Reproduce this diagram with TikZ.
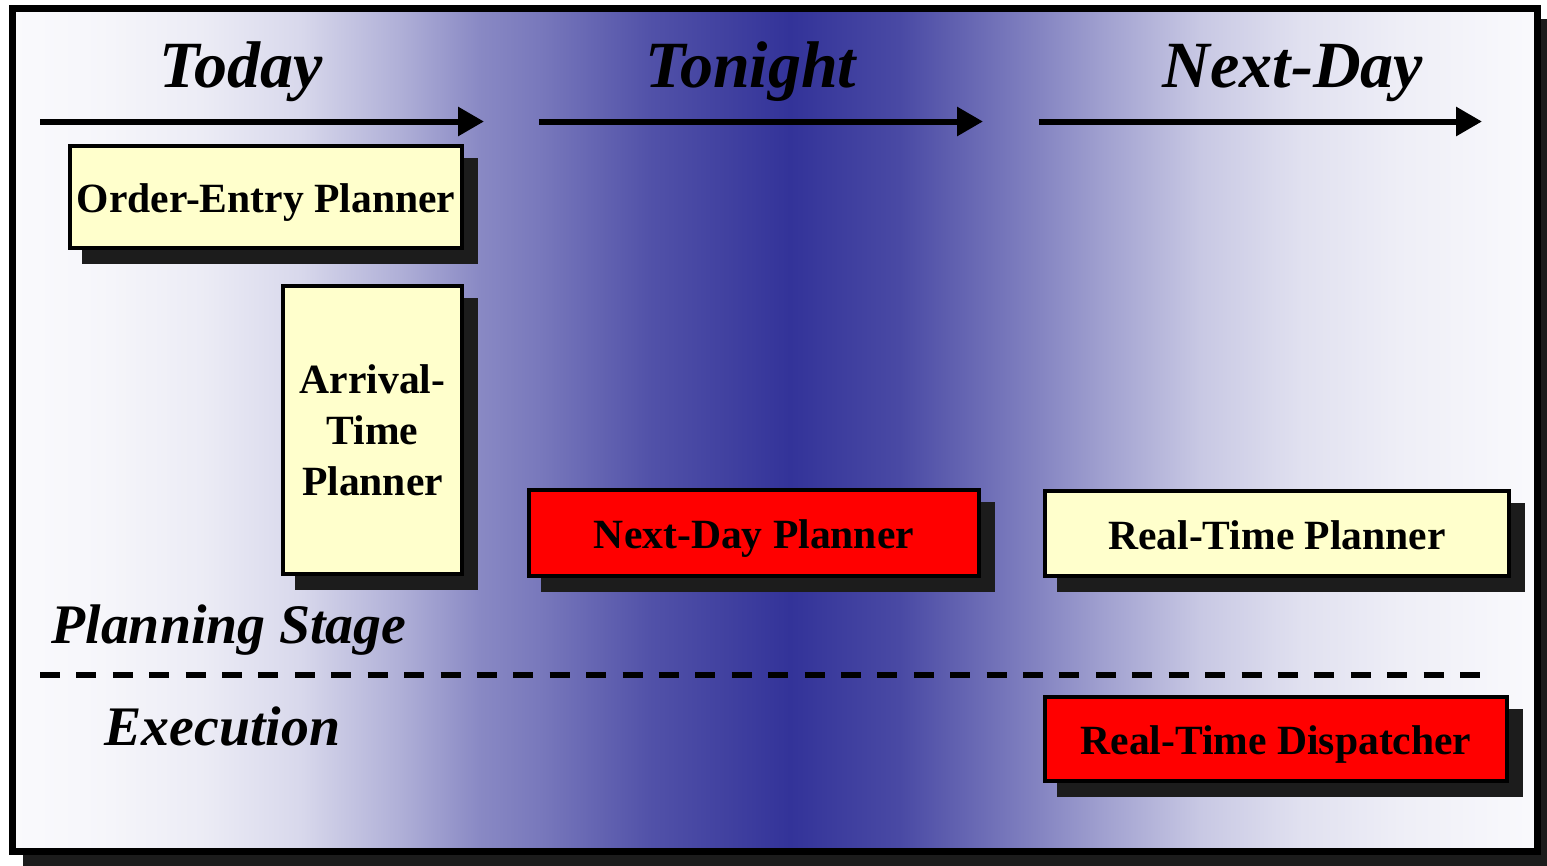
\documentclass[tikz,border=0pt]{standalone}
\usepackage{fontspec}
\setmainfont{Liberation Serif}
\usetikzlibrary{arrows.meta}
\pgfdeclarelayer{bgl}
\pgfdeclarelayer{shl}
\pgfsetlayers{bgl,shl,main}
\pgfdeclarehorizontalshading{skyband}{100bp}{%
rgb(0bp)=(0.98,0.98,0.99);
rgb(25bp)=(0.98,0.98,0.99);
rgb(27.87bp)=(0.965,0.965,0.982);
rgb(31.15bp)=(0.926,0.926,0.963);
rgb(34.43bp)=(0.848,0.848,0.924);
rgb(37.70bp)=(0.688,0.688,0.844);
rgb(40.33bp)=(0.536,0.536,0.768);
rgb(42.30bp)=(0.472,0.472,0.736);
rgb(45.90bp)=(0.32,0.32,0.66);
rgb(50.49bp)=(0.2,0.2,0.6);
rgb(54.10bp)=(0.288,0.288,0.644);
rgb(58.69bp)=(0.52,0.52,0.76);
rgb(60.66bp)=(0.624,0.624,0.812);
rgb(63.93bp)=(0.784,0.784,0.892);
rgb(67.21bp)=(0.88,0.88,0.94);
rgb(70.49bp)=(0.934,0.934,0.967);
rgb(75bp)=(0.98,0.98,0.99);
rgb(100bp)=(0.98,0.98,0.99)}
\definecolor{boxyellow}{HTML}{FFFFCC}
\definecolor{shadowgray}{HTML}{1C1C1C}
\tikzset{
  planbox/.style={draw=black, line width=4pt, inner sep=0pt, align=center,
    font=\fontsize{41.6}{51}\selectfont\bfseries},
  oneline/.style={text height=36pt, text depth=5pt},
  yellowbox/.style={planbox, fill=boxyellow},
  redbox/.style={planbox, fill=red},
  timelabel/.style={font=\fontsize{66}{72}\selectfont\bfseries\itshape, inner sep=0pt, anchor=base},
  stagelabel/.style={font=\fontsize{55.8}{60}\selectfont\bfseries\itshape, inner sep=0pt, anchor=base},
  timearrow/.style={line width=6pt, -{Triangle[length=26pt,width=28pt]}},
  stageline/.style={line width=6pt, dash pattern=on 20pt off 16.41pt},
  boxshadow/.style={fill=shadowgray}
}
\begin{document}
\begin{tikzpicture}[x=1pt,y=-1pt]
\useasboundingbox (0,0) rectangle (1547,865);
% frame with shadow and gradient
\begin{pgfonlayer}{bgl}
\fill[shadowgray] (23,19) rectangle (1560,872);
\path[shading=skyband] (12.5,8.5) rectangle (1537.5,851.5);
\draw[line width=7pt] (12.5,8.5) rectangle (1537.5,851.5);
\end{pgfonlayer}
% time labels
\node[timelabel] (today) at (241,87) {Today};
\node[timelabel] (tonight) at (751,87) {Tonight};
\node[timelabel] (nextday) at (1293,87) {Next-Day};
% time arrows
\coordinate (t1s) at (40,121.5);  \coordinate (t1e) at (484,121.5);
\coordinate (t2s) at (539,121.5); \coordinate (t2e) at (983,121.5);
\coordinate (t3s) at (1039,121.5); \coordinate (t3e) at (1482,121.5);
\draw[timearrow] (t1s) -- (t1e);
\draw[timearrow] (t2s) -- (t2e);
\draw[timearrow] (t3s) -- (t3e);
% boxes
\node[yellowbox, oneline, minimum width=392pt, minimum height=102pt] (oe) at (266,197) {Order-Entry Planner};
\node[yellowbox, minimum width=179pt, minimum height=288pt] (at) at (372.5,430) {Arrival-\\Time\\Planner};
\node[redbox, oneline, minimum width=450pt, minimum height=86pt] (nd) at (754,533) {Next-Day Planner};
\node[yellowbox, oneline, minimum width=464pt, minimum height=85pt] (rtp) at (1277,533.5) {Real-Time Planner};
\node[redbox, oneline, minimum width=462pt, minimum height=84pt] (rtd) at (1276,739) {Real-Time Dispatcher};
\begin{pgfonlayer}{shl}
\foreach \n in {oe,at,nd,rtp,rtd}
  \fill[boxshadow] ([shift={(14,14)}]\n.north west) rectangle ([shift={(14,14)}]\n.south east);
\end{pgfonlayer}
% stage labels and divider
\node[stagelabel] (planning) at (229,643) {Planning Stage};
\node[stagelabel] (execution) at (222.5,745) {Execution};
\coordinate (ds) at (40,675); \coordinate (de) at (1480,675);
\draw[stageline] (ds) -- (de);
\end{tikzpicture}
\end{document}
